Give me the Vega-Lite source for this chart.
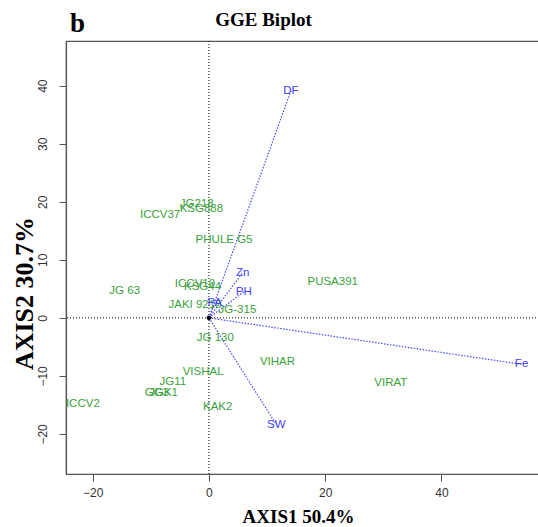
{
  "$schema": "https://vega.github.io/schema/vega-lite/v6.json",
  "width": 473,
  "height": 433,
  "autosize": {"type": "none"},
  "padding": {"left": 66, "top": 41, "right": 0, "bottom": 53},
  "background": "white",
  "config": {
    "view": {"stroke": "#555", "strokeWidth": 1.2},
    "axis": {
      "grid": false,
      "labelFont": "Liberation Sans",
      "labelFontSize": 12,
      "labelColor": "#333",
      "domainColor": "#555",
      "domainWidth": 1.2,
      "tickColor": "#555",
      "tickSize": 7,
      "titleFont": "Liberation Serif",
      "titleFontWeight": "bold",
      "titleFontSize": 19,
      "titleColor": "#000"
    }
  },
  "datasets": {
    "origin": [{"x": 0, "y": 0}],
    "genotypes": [
      {"name": "JG218", "x": -2.1, "y": 19.6},
      {"name": "KSG888", "x": -1.3, "y": 18.7},
      {"name": "ICCV37", "x": -8.4, "y": 17.8},
      {"name": "PHULE G5", "x": 2.6, "y": 13.4},
      {"name": "JG 63", "x": -14.5, "y": 4.7},
      {"name": "ICCV10", "x": -2.4, "y": 5.8},
      {"name": "KSG44", "x": -1.1, "y": 5.3},
      {"name": "JAKI 9218", "x": -2.4, "y": 2.3},
      {"name": "JG-315", "x": 4.9, "y": 1.3},
      {"name": "PUSA391", "x": 21.3, "y": 6.2},
      {"name": "VIHAR", "x": 11.8, "y": -7.6},
      {"name": "VIRAT", "x": 31.3, "y": -11.3},
      {"name": "JG 130", "x": 1.1, "y": -3.4},
      {"name": "VISHAL", "x": -1.0, "y": -9.3},
      {"name": "JG11", "x": -6.2, "y": -11.0},
      {"name": "GG3", "x": -8.95, "y": -12.9},
      {"name": "JGK1", "x": -7.8, "y": -12.9},
      {"name": "ICCV2", "x": -21.7, "y": -14.8},
      {"name": "KAK2", "x": 1.5, "y": -15.4}
    ],
    "traits": [
      {"name": "DF", "x": 14.1, "y": 39.1, "x0": 0, "y0": 0},
      {"name": "Fe", "x": 53.8, "y": -8.0, "x0": 0, "y0": 0},
      {"name": "SW", "x": 11.6, "y": -18.4, "x0": 0, "y0": 0},
      {"name": "Zn", "x": 5.8, "y": 7.8, "x0": 0, "y0": 0},
      {"name": "PH", "x": 6.0, "y": 4.5, "x0": 0, "y0": 0},
      {"name": "PA", "x": 1.0, "y": 2.6, "x0": 0, "y0": 0}
    ]
  },
  "resolve": {"axis": {"x": "independent", "y": "independent"}},
  "layer": [
    {
      "data": {"name": "origin"},
      "mark": {"type": "rule", "color": "#000", "strokeDash": [1, 2], "strokeWidth": 1},
      "encoding": {
        "x": {"field": "x", "type": "quantitative", "scale": {"domain": [-24.6, 56.8], "zero": false, "nice": false}, "axis": null}
      }
    },
    {
      "data": {"name": "origin"},
      "mark": {"type": "rule", "color": "#000", "strokeDash": [1, 2], "strokeWidth": 1},
      "encoding": {
        "y": {"field": "y", "type": "quantitative", "scale": {"domain": [-26.9, 47.7], "zero": false, "nice": false}, "axis": null}
      }
    },
    {
      "data": {"name": "traits"},
      "mark": {"type": "rule", "color": "#4a4aff", "strokeDash": [1.5, 1.5], "strokeWidth": 1.2},
      "encoding": {
        "x": {"field": "x0", "type": "quantitative", "axis": null},
        "y": {"field": "y0", "type": "quantitative", "axis": null},
        "x2": {"field": "x"},
        "y2": {"field": "y"}
      }
    },
    {
      "data": {"name": "genotypes"},
      "mark": {"type": "text", "font": "Liberation Sans", "fontSize": 11.5, "color": "#3a9f3a", "align": "center", "baseline": "middle"},
      "encoding": {
        "x": {
          "field": "x", "type": "quantitative",
          "axis": {"orient": "bottom", "values": [-20, 0, 20, 40], "title": "AXIS1 50.4%", "labelPadding": 6, "titleX": 232, "titleY": 48, "titleAlign": "center", "titleBaseline": "alphabetic"}
        },
        "y": {
          "field": "y", "type": "quantitative",
          "axis": {"orient": "left", "values": [-20, -10, 0, 10, 20, 30, 40], "labelAngle": -90, "labelAlign": "center", "labelBaseline": "bottom", "labelPadding": 10, "title": "AXIS2 30.7%", "titleFontSize": 26, "titleAngle": -90, "titleX": -34, "titleY": 252, "titleAlign": "center", "titleBaseline": "alphabetic"}
        },
        "text": {"field": "name"}
      }
    },
    {
      "data": {"name": "traits"},
      "mark": {"type": "text", "font": "Liberation Sans", "fontSize": 11.5, "color": "#4040ff", "align": "center", "baseline": "middle"},
      "encoding": {
        "x": {
          "field": "x", "type": "quantitative",
          "axis": {"orient": "top", "domain": false, "ticks": false, "labels": false, "title": "b", "titleFontSize": 27, "titleX": 11, "titleY": -9.5, "titleAlign": "center", "titleBaseline": "alphabetic"}
        },
        "y": {"field": "y", "type": "quantitative", "axis": null},
        "text": {"field": "name"}
      }
    },
    {
      "data": {"name": "origin"},
      "mark": {"type": "point", "filled": true, "color": "#000", "size": 22, "opacity": 1},
      "encoding": {
        "x": {
          "field": "x", "type": "quantitative",
          "axis": {"orient": "top", "domain": false, "ticks": false, "labels": false, "title": "GGE Biplot", "titleX": 197, "titleY": -15.3, "titleAlign": "center", "titleBaseline": "alphabetic"}
        },
        "y": {"field": "y", "type": "quantitative", "axis": null}
      }
    }
  ]
}
